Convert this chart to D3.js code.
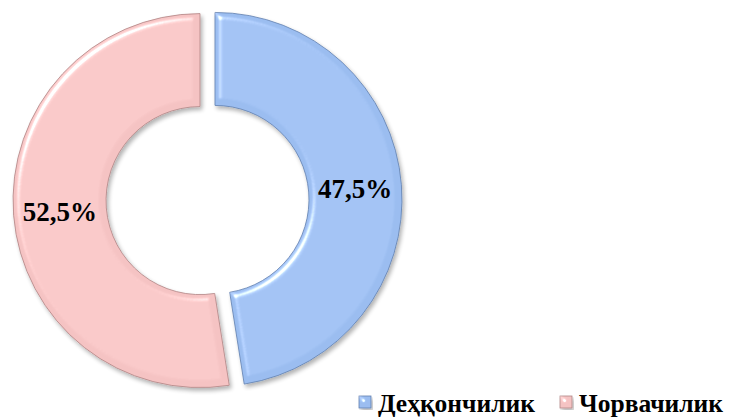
<!DOCTYPE html>
<html>
<head>
<meta charset="utf-8">
<script src="https://cdn.jsdelivr.net/npm/d3@7"></script>
<style>
  body { margin: 0; background: #fff; }
</style>
</head>
<body>
<svg id="chart" width="730" height="418"></svg>
<script>
const categories = ["Деҳқончилик", "Чорвачилик"];
const values = [47.5, 52.5];
const labels = ["47,5%", "52,5%"];
const colors = ["#9bbdf0", "#f5c3c3"];
const edgeColors = ["#5f7fae", "#b08484"];

const fontFamily = "Liberation Serif";

const svg = d3.select("#chart");
const cx = 207.5, cy = 200, outerR = 187, innerR = 94, explode = 7.5;

const defs = svg.append("defs");
const f = defs.append("filter").attr("id", "bevel")
  .attr("x", "-10%").attr("y", "-10%").attr("width", "120%").attr("height", "120%");
f.append("feGaussianBlur").attr("in", "SourceAlpha").attr("stdDeviation", 3).attr("result", "blur");
f.append("feSpecularLighting").attr("in", "blur").attr("surfaceScale", 6)
  .attr("specularConstant", 1.1).attr("specularExponent", 25)
  .attr("lighting-color", "#ffffff").attr("result", "spec")
  .append("feDistantLight").attr("azimuth", 225).attr("elevation", 35);
f.append("feComposite").attr("in", "spec").attr("in2", "SourceAlpha")
  .attr("operator", "in").attr("result", "specOut");
f.append("feComposite").attr("in", "SourceGraphic").attr("in2", "specOut")
  .attr("operator", "arithmetic").attr("k1", 0).attr("k2", 1).attr("k3", 0.8).attr("k4", 0)
  .attr("result", "lit");
f.append("feGaussianBlur").attr("in", "SourceAlpha").attr("stdDeviation", 2).attr("result", "sblur");
f.append("feOffset").attr("in", "sblur").attr("dx", 2).attr("dy", 3).attr("result", "soff");
f.append("feComponentTransfer").attr("in", "soff").attr("result", "shadow")
  .append("feFuncA").attr("type", "linear").attr("slope", 0.3);
const m = f.append("feMerge");
m.append("feMergeNode").attr("in", "shadow");
m.append("feMergeNode").attr("in", "lit");

const pie = d3.pie().sort(null).value(d => d);
const arcs = pie(values);
const arc = d3.arc().innerRadius(innerR).outerRadius(outerR);

const g = svg.append("g").attr("transform", `translate(${cx},${cy})`);

const slice = g.selectAll(".slice")
  .data(arcs)
  .enter().append("g")
  .attr("class", "slice")
  .attr("transform", d => {
    const a = (d.startAngle + d.endAngle) / 2;
    return `translate(${Math.sin(a) * explode},${-Math.cos(a) * explode})`;
  });

slice.append("path")
  .attr("d", arc)
  .attr("fill", (d, i) => colors[i])
  .attr("stroke", (d, i) => edgeColors[i])
  .attr("stroke-width", 0.8)
  .attr("filter", "url(#bevel)");

slice.append("text")
  .attr("x", d => arc.centroid(d)[0])
  .attr("y", d => arc.centroid(d)[1])
  .attr("dy", "0.35em")
  .attr("text-anchor", "middle")
  .attr("font-family", fontFamily)
  .attr("font-weight", "bold")
  .attr("font-size", 27)
  .attr("fill", "#000")
  .text((d, i) => labels[i]);

// legend
const legendX = [359, 560];
const legend = svg.selectAll(".legend")
  .data(categories)
  .enter().append("g")
  .attr("class", "legend")
  .attr("transform", (d, i) => `translate(${legendX[i]},396)`);

legend.append("rect")
  .attr("width", 12).attr("height", 12)
  .attr("fill", (d, i) => colors[i])
  .attr("stroke", (d, i) => edgeColors[i])
  .attr("stroke-width", 0.8)
  .attr("filter", "url(#bevel)");

legend.append("text")
  .attr("x", 19)
  .attr("y", 16)
  .attr("font-family", fontFamily)
  .attr("font-weight", "bold")
  .attr("font-size", 25.5)
  .attr("fill", "#000")
  .text(d => d);
</script>
</body>
</html>
